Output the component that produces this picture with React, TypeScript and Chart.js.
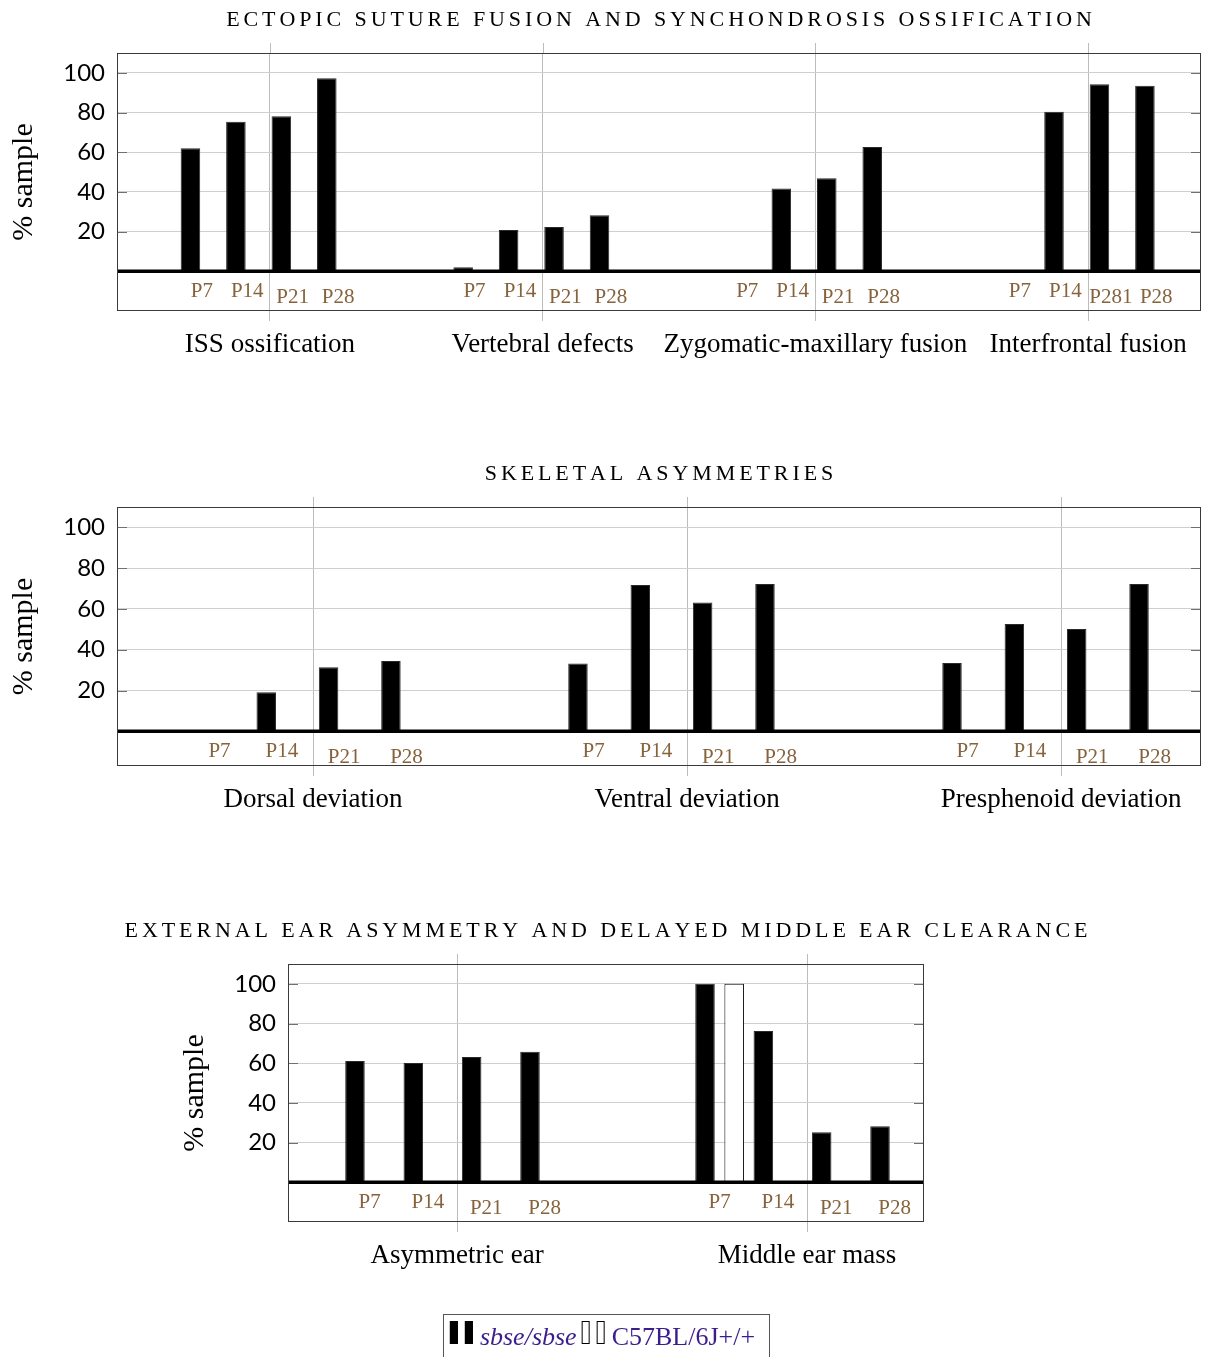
import React, { useEffect, useRef } from 'react';
import { Chart, registerables } from 'chart.js';

Chart.register(...registerables);

// ---------- shared ----------
const TIMEPOINTS = ['P7', 'P14', 'P21', 'P28'];
const SERIES = ['sbse/sbse', 'C57BL/6J+/+'];
const Y_TICKS = [20, 40, 60, 80, 100];
const Y_LABEL = '% sample';

// ---------- panel 1 ----------
const ECTOPIC_TITLE = 'Ectopic suture fusion and synchondrosis ossification';
const ECTOPIC_CATEGORIES = ['ISS ossification', 'Vertebral defects', 'Zygomatic-maxillary fusion', 'Interfrontal fusion'];
const ECTOPIC_SBSE_P7 = [62, 2, 0, 0];
const ECTOPIC_SBSE_P14 = [75.3, 20.8, 41.7, 80.4];
const ECTOPIC_SBSE_P21 = [78.1, 22.3, 46.9, 94.2];
const ECTOPIC_SBSE_P28 = [97.3, 28.3, 62.6, 93.5];
const ECTOPIC_WT_P7 = [0, 0, 0, 0];
const ECTOPIC_WT_P14 = [0, 0, 0, 0];
const ECTOPIC_WT_P21 = [0, 0, 0, 0];
const ECTOPIC_WT_P28 = [0, 0, 0, 0];
const ECTOPIC_BAR_LABELS = [
  ['P7', 'P14', 'P21', 'P28'],
  ['P7', 'P14', 'P21', 'P28'],
  ['P7', 'P14', 'P21', 'P28'],
  ['P7', 'P14', 'P281', 'P28'],
];

// ---------- panel 2 ----------
const SKELETAL_TITLE = 'Skeletal asymmetries';
const SKELETAL_CATEGORIES = ['Dorsal deviation', 'Ventral deviation', 'Presphenoid deviation'];
const SKELETAL_SBSE_P7 = [0, 33.2, 33.5];
const SKELETAL_SBSE_P14 = [19.2, 71.7, 52.6];
const SKELETAL_SBSE_P21 = [31.4, 63.2, 50.2];
const SKELETAL_SBSE_P28 = [34.5, 72.2, 72.2];
const SKELETAL_WT_P7 = [0, 0, 0];
const SKELETAL_WT_P14 = [0, 0, 0];
const SKELETAL_WT_P21 = [0, 0, 0];
const SKELETAL_WT_P28 = [0, 0, 0];
const SKELETAL_BAR_LABELS = [
  ['P7', 'P14', 'P21', 'P28'],
  ['P7', 'P14', 'P21', 'P28'],
  ['P7', 'P14', 'P21', 'P28'],
];

// ---------- panel 3 ----------
const EAR_TITLE = 'External ear asymmetry and delayed middle ear clearance';
const EAR_CATEGORIES = ['Asymmetric ear', 'Middle ear mass'];
const EAR_SBSE_P7 = [61.1, 100];
const EAR_SBSE_P14 = [60.1, 76.3];
const EAR_SBSE_P21 = [63.1, 25.2];
const EAR_SBSE_P28 = [65.8, 28.2];
const EAR_WT_P7 = [0, 100];
const EAR_WT_P14 = [0, 0];
const EAR_WT_P21 = [0, 0];
const EAR_WT_P28 = [0, 0];
const EAR_BAR_LABELS = [
  ['P7', 'P14', 'P21', 'P28'],
  ['P7', 'P14', 'P21', 'P28'],
];

// ---------- styles ----------
const SERIF = '"Liberation Serif", "DejaVu Serif", serif';
const SANS = 'Lato, "Open Sans", sans-serif';
const GRID_Y = '#cfcfcf';
const GRID_X = '#bcbcbc';
const BOX = '#3a3a3a';
const LABEL_BROWN = '#86633c';
const LEGEND_INK = '#3b1e8c';

type Panel = {
  title: string;
  categories: string[];
  sbse: number[][];
  wt: number[][];
  barLabels: string[][];
  yMin: number;
  xMin: number;
  xMax: number;
  barPct: number;
  legend: boolean;
  canvasTop: number;
  canvasHeight: number;
  padding: { top: number; bottom: number; left: number; right: number };
};

function drawSpaced(ctx: CanvasRenderingContext2D, text: string, cx: number, cy: number, spacing: number) {
  const chars = Array.from(text);
  const widths = chars.map((c) => ctx.measureText(c).width);
  const total = widths.reduce((a, b) => a + b, 0) + spacing * (chars.length - 1);
  let x = cx - total / 2;
  ctx.textAlign = 'left';
  chars.forEach((c, i) => {
    ctx.fillText(c, x, cy);
    x += widths[i] + spacing;
  });
}

const decorPlugin = {
  id: 'decor',
  afterDatasetsDraw(chart: any, _args: any, opts: any) {
    const { ctx, chartArea: a, scales } = chart;
    const xs = scales.x;
    const ys = scales.y;
    ctx.save();

    // vertical category lines extending above box
    ctx.strokeStyle = GRID_X;
    ctx.lineWidth = 1;
    xs.ticks.forEach((t: any) => {
      const px = Math.round(xs.getPixelForValue(t.value)) + 0.5;
      ctx.beginPath();
      ctx.moveTo(px, a.top - 10);
      ctx.lineTo(px, a.top);
      ctx.stroke();
    });

    // inner y tick marks
    ctx.strokeStyle = '#707070';
    Y_TICKS.forEach((v) => {
      const py = Math.round(ys.getPixelForValue(v)) + 0.5;
      ctx.beginPath();
      ctx.moveTo(a.left, py);
      ctx.lineTo(a.left + 10, py);
      ctx.moveTo(a.right - 10, py);
      ctx.lineTo(a.right, py);
      ctx.stroke();
    });

    // zero line
    const y0 = ys.getPixelForValue(0);
    ctx.strokeStyle = '#000';
    ctx.lineWidth = 3.5;
    ctx.beginPath();
    ctx.moveTo(a.left, y0);
    ctx.lineTo(a.right, y0);
    ctx.stroke();

    // box
    ctx.strokeStyle = BOX;
    ctx.lineWidth = 1;
    ctx.strokeRect(a.left + 0.5, a.top + 0.5, a.right - a.left - 1, a.bottom - a.top - 1);

    // bar labels
    ctx.fillStyle = LABEL_BROWN;
    ctx.font = `21px ${SERIF}`;
    ctx.textAlign = 'center';
    ctx.textBaseline = 'alphabetic';
    const labels: string[][] = opts.barLabels;
    labels.forEach((row, c) => {
      row.forEach((txt, t) => {
        const m1 = chart.getDatasetMeta(2 * t).data[c];
        const m2 = chart.getDatasetMeta(2 * t + 1).data[c];
        const px = (m1.x + m2.x) / 2;
        const raised = /[47]/.test(txt.slice(1)) && !/^P2/.test(txt);
        ctx.fillText(txt, px, y0 + (raised ? 26 : 32));
      });
    });

    // title (small caps look)
    ctx.fillStyle = '#000';
    ctx.font = `22px ${SERIF}`;
    ctx.textBaseline = 'middle';
    drawSpaced(ctx, opts.title.toUpperCase(), (a.left + a.right) / 2, a.top - 33, 3.9);

    // legend
    if (opts.legend) {
      const cx = (a.left + a.right) / 2;
      const top = a.bottom + 92;
      const h = 52;
      ctx.font = `italic 26px ${SERIF}`;
      const w1 = ctx.measureText(SERIES[0]).width;
      ctx.font = `26px ${SERIF}`;
      const w2 = ctx.measureText(SERIES[1]).width;
      const icon = 24;
      const total = 7 + icon + 6 + w1 + 5 + icon + 6 + w2 + 14;
      const left = cx - total / 2;
      ctx.fillStyle = '#fff';
      ctx.fillRect(left, top, total, h);
      ctx.strokeStyle = '#555';
      ctx.lineWidth = 1;
      ctx.strokeRect(Math.round(left) + 0.5, top + 0.5, Math.round(total), h);
      const iy = top + 7;
      const ih = 23;
      const drawIcon = (x: number, fill: string) => {
        ctx.fillStyle = fill;
        ctx.strokeStyle = '#000';
        ctx.lineWidth = 1;
        [0, 15].forEach((dx) => {
          ctx.fillRect(x + dx, iy, 8, ih);
          ctx.strokeRect(x + dx + 0.5, iy + 0.5, 7, ih - 1);
        });
      };
      let x = left + 7;
      drawIcon(x, '#000');
      x += icon + 6;
      ctx.fillStyle = LEGEND_INK;
      ctx.textAlign = 'left';
      ctx.textBaseline = 'alphabetic';
      ctx.font = `italic 26px ${SERIF}`;
      ctx.fillText(SERIES[0], x, top + 31);
      x += w1 + 5;
      drawIcon(x, '#fff');
      x += icon + 6;
      ctx.fillStyle = LEGEND_INK;
      ctx.font = `26px ${SERIF}`;
      ctx.fillText(SERIES[1], x, top + 31);
    }

    ctx.restore();
  },
};

const PANELS: Panel[] = [
  {
    title: ECTOPIC_TITLE,
    categories: ECTOPIC_CATEGORIES,
    sbse: [ECTOPIC_SBSE_P7, ECTOPIC_SBSE_P14, ECTOPIC_SBSE_P21, ECTOPIC_SBSE_P28],
    wt: [ECTOPIC_WT_P7, ECTOPIC_WT_P14, ECTOPIC_WT_P21, ECTOPIC_WT_P28],
    barLabels: ECTOPIC_BAR_LABELS,
    yMin: -20,
    xMin: -0.561,
    xMax: 3.414,
    barPct: 0.86,
    legend: false,
    canvasTop: 0,
    canvasHeight: 440,
    padding: { top: 53, bottom: 60, left: 0, right: 6 },
  },
  {
    title: SKELETAL_TITLE,
    categories: SKELETAL_CATEGORIES,
    sbse: [SKELETAL_SBSE_P7, SKELETAL_SBSE_P14, SKELETAL_SBSE_P21, SKELETAL_SBSE_P28],
    wt: [SKELETAL_WT_P7, SKELETAL_WT_P14, SKELETAL_WT_P21, SKELETAL_WT_P28],
    barLabels: SKELETAL_BAR_LABELS,
    yMin: -17,
    xMin: -0.524,
    xMax: 2.374,
    barPct: 0.625,
    legend: false,
    canvasTop: 440,
    canvasHeight: 440,
    padding: { top: 67, bottom: 45, left: 0, right: 6 },
  },
  {
    title: EAR_TITLE,
    categories: EAR_CATEGORIES,
    sbse: [EAR_SBSE_P7, EAR_SBSE_P14, EAR_SBSE_P21, EAR_SBSE_P28],
    wt: [EAR_WT_P7, EAR_WT_P14, EAR_WT_P21, EAR_WT_P28],
    barLabels: EAR_BAR_LABELS,
    yMin: -20,
    xMin: -0.483,
    xMax: 1.334,
    barPct: 0.67,
    legend: true,
    canvasTop: 880,
    canvasHeight: 477,
    padding: { top: 84, bottom: 66, left: 171, right: 283 },
  },
];

function PanelChart({ panel }: { panel: Panel }) {
  const ref = useRef<HTMLCanvasElement | null>(null);
  useEffect(() => {
    if (!ref.current) return;
    const datasets: any[] = [];
    TIMEPOINTS.forEach((tp, t) => {
      datasets.push({
        label: `${SERIES[0]} ${tp}`,
        data: panel.categories.map((_, c) => ({ x: c, y: panel.sbse[t][c] })),
        backgroundColor: '#000',
        borderColor: '#2a2a2a',
        borderWidth: 1,
      });
      datasets.push({
        label: `${SERIES[1]} ${tp}`,
        data: panel.categories.map((_, c) => ({ x: c, y: panel.wt[t][c] })),
        backgroundColor: '#fff',
        borderColor: '#000',
        borderWidth: 1,
      });
    });
    const chart = new Chart(ref.current, {
      type: 'bar',
      data: { datasets },
      plugins: [decorPlugin],
      options: {
        animation: false,
        responsive: false,
        maintainAspectRatio: false,
        categoryPercentage: 2 / 3,
        barPercentage: panel.barPct,
        layout: { padding: panel.padding },
        plugins: {
          legend: { display: false },
          tooltip: { enabled: false },
          title: { display: false },
          decor: { title: panel.title, barLabels: panel.barLabels, legend: panel.legend },
        } as any,
        scales: {
          x: {
            type: 'linear',
            offset: false,
            min: panel.xMin,
            max: panel.xMax,
            afterBuildTicks: (scale: any) => {
              scale.ticks = panel.categories.map((_, i) => ({ value: i }));
            },
            afterFit: (scale: any) => {
              scale.height = 69;
            },
            grid: { offset: false, color: GRID_X, lineWidth: 1, drawTicks: true, tickLength: 10, tickColor: GRID_X },
            border: { display: false },
            ticks: {
              autoSkip: false,
              maxRotation: 0,
              minRotation: 0,
              padding: 8,
              color: '#000',
              font: { family: SERIF, size: 27 },
              callback: (v: any) => panel.categories[Math.round(Number(v))] ?? '',
            },
          },
          y: {
            type: 'linear',
            min: panel.yMin,
            max: 110,
            afterBuildTicks: (scale: any) => {
              scale.ticks = Y_TICKS.map((v) => ({ value: v }));
            },
            afterFit: (scale: any) => {
              scale.width = 117;
            },
            grid: { color: GRID_Y, lineWidth: 1, drawTicks: false },
            border: { display: false },
            ticks: {
              padding: 12,
              color: '#000',
              font: { family: SANS, size: 24 },
            },
            title: {
              display: true,
              text: Y_LABEL,
              color: '#000',
              font: { family: SERIF, size: 30 },
              padding: { top: 6, bottom: 0 },
            },
          },
        },
      } as any,
    });
    return () => chart.destroy();
  }, [panel]);
  return (
    <canvas
      ref={ref}
      width={1207}
      height={panel.canvasHeight}
      style={{ position: 'absolute', left: 0, top: panel.canvasTop, width: 1207, height: panel.canvasHeight, display: 'block' }}
    />
  );
}

export default function App() {
  return (
    <div style={{ position: 'absolute', left: 0, top: 0, width: 1207, height: 1357, background: '#fff', overflow: 'hidden' }}>
      {PANELS.map((p, i) => (
        <PanelChart key={i} panel={p} />
      ))}
    </div>
  );
}
